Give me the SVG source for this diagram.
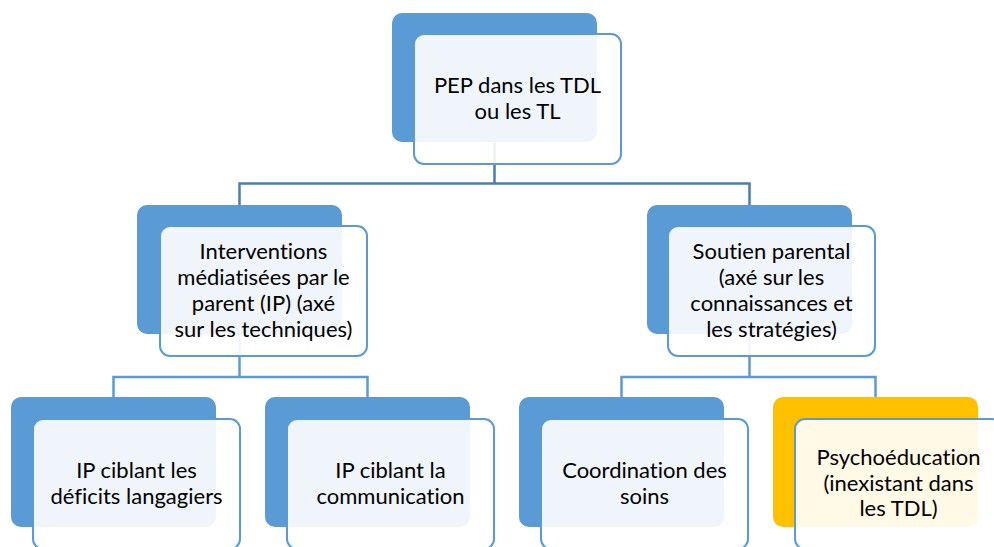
<svg xmlns="http://www.w3.org/2000/svg" width="994" height="547" viewBox="0 0 994 547">
<style>
.back{fill:#5B9BD5}
.backy{fill:#FFC000}
.front{fill:#FFFFFF;fill-opacity:0.9;stroke:#5B9BD5;stroke-width:2}
.t{font-family:Lato,"Liberation Sans",sans-serif;font-size:22px;fill:#000;text-anchor:middle;font-variant-ligatures:none;font-feature-settings:"liga" 0}
.c1{fill:none;stroke:#4A7DB3;stroke-width:2.5}
.c2{fill:none;stroke:#5B9BD5;stroke-width:2.5}
</style>
<rect width="994" height="547" fill="#FFFFFF"/>
<g id="connectors">
<path class="c1" d="M494.5 142 V183.5 H239.5 V205 M494.5 183.5 H749.5 V205"/>
<path class="c2" d="M239.5 334 V377 H113.5 V397 M239.5 377 H367.5 V397"/>
<path class="c2" d="M749.5 334 V377 H621.5 V397 M749.5 377 H875.5 V397"/>
</g>
<g id="n-root">
<rect class="back" x="392" y="13" width="205" height="129" rx="10"/>
<rect class="front" x="414" y="34" width="207" height="130" rx="10"/>
<text class="t" x="517.5" y="93">PEP dans les TDL</text>
<text class="t" x="517.5" y="118.5">ou les TL</text>
</g>
<g id="n-ip">
<rect class="back" x="137" y="205" width="205" height="129" rx="10"/>
<rect class="front" x="160" y="226" width="207" height="130" rx="10"/>
<text class="t" x="263.5" y="259">Interventions</text>
<text class="t" x="263.5" y="285">médiatisées par le</text>
<text class="t" x="263.5" y="311">parent (IP) (axé</text>
<text class="t" x="263.5" y="337">sur les techniques)</text>
</g>
<g id="n-soutien">
<rect class="back" x="647" y="205" width="205" height="129" rx="10"/>
<rect class="front" x="668" y="226" width="207" height="130" rx="10"/>
<text class="t" x="771.5" y="259">Soutien parental</text>
<text class="t" x="771.5" y="285">(axé sur les</text>
<text class="t" x="771.5" y="311">connaissances et</text>
<text class="t" x="771.5" y="337">les stratégies)</text>
</g>
<g id="n-deficits">
<rect class="back" x="11" y="397" width="205" height="130" rx="10"/>
<rect class="front" x="33" y="419" width="207" height="130" rx="10"/>
<text class="t" x="136.5" y="478">IP ciblant les</text>
<text class="t" x="136.5" y="503.5">déficits langagiers</text>
</g>
<g id="n-communication">
<rect class="back" x="265" y="397" width="205" height="130" rx="10"/>
<rect class="front" x="287" y="419" width="207" height="130" rx="10"/>
<text class="t" x="390.5" y="478">IP ciblant la</text>
<text class="t" x="390.5" y="503.5">communication</text>
</g>
<g id="n-coordination">
<rect class="back" x="519" y="397" width="205" height="130" rx="10"/>
<rect class="front" x="541" y="419" width="207" height="130" rx="10"/>
<text class="t" x="644.5" y="478">Coordination des</text>
<text class="t" x="644.5" y="503.5">soins</text>
</g>
<g id="n-psycho">
<rect class="backy" x="773" y="397" width="205" height="130" rx="10"/>
<rect class="front" x="795" y="419" width="207" height="130" rx="10"/>
<text class="t" x="898.5" y="465">Psychoéducation</text>
<text class="t" x="898.5" y="490.5">(inexistant dans</text>
<text class="t" x="898.5" y="516">les TDL)</text>
</g>
</svg>
